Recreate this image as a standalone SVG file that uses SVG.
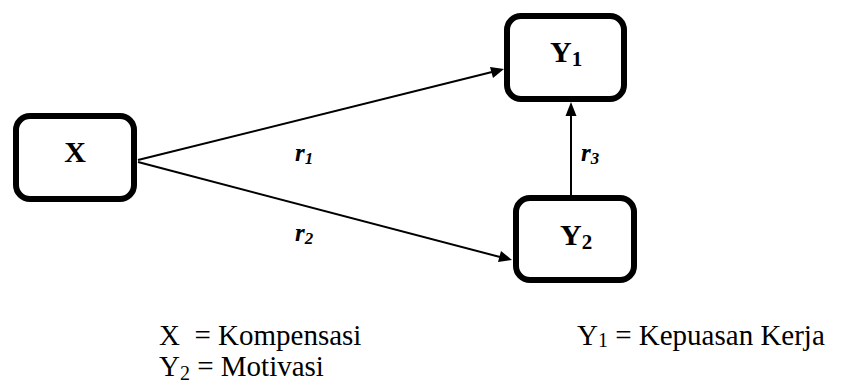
<svg xmlns="http://www.w3.org/2000/svg" width="849" height="385" viewBox="0 0 849 385">
<style>
.box{fill:#fff;stroke:#000;stroke-width:6}
.lbl{font-weight:bold;font-size:30px}
.r{font-weight:bold;font-style:italic;font-size:25px}
.leg{font-size:29px}
.con{stroke:#000;stroke-width:2;fill:none}
</style>
<rect width="849" height="385" fill="#fff"/>
<g font-family="'Liberation Serif','Times New Roman',serif">
<g id="connectors">
<line class="con" x1="138" y1="160" x2="492" y2="72"/>
<path d="M504,69 L490,67 L493,78 z" fill="#000"/>
<line class="con" x1="138" y1="162" x2="500" y2="257"/>
<path d="M512,260 L498,262 L501,251 z" fill="#000"/>
<line class="con" x1="571" y1="195" x2="571" y2="114"/>
<path d="M571,102 L565.5,116 L576.5,116 z" fill="#000"/>
</g>
<g id="X">
<rect class="box" x="16" y="116" width="118" height="83" rx="14"/>
<text class="lbl" x="75" y="162" text-anchor="middle">X</text>
</g>
<g id="Y1">
<rect class="box" x="507" y="16" width="117" height="83" rx="14"/>
<text class="lbl" x="550" y="62">Y<tspan font-size="21" dy="4">1</tspan></text>
</g>
<g id="Y2">
<rect class="box" x="516" y="198" width="118" height="82" rx="14"/>
<text class="lbl" x="560" y="245">Y<tspan font-size="21" dy="4">2</tspan></text>
</g>
<g id="labels">
<text class="r" x="295" y="161">r<tspan font-size="17" dy="3">1</tspan></text>
<text class="r" x="295" y="241">r<tspan font-size="17" dy="3">2</tspan></text>
<text class="r" x="581" y="161">r<tspan font-size="17" dy="3">3</tspan></text>
</g>
<g id="legend">
<text class="leg" x="159" y="345" xml:space="preserve">X  = Kompensasi</text>
<text class="leg" x="577" y="345">Y<tspan font-size="20" dy="2">1</tspan><tspan dy="-2"> = Kepuasan Kerja</tspan></text>
<text class="leg" x="159" y="376">Y<tspan font-size="20" dy="4">2</tspan><tspan dy="-4"> = Motivasi</tspan></text>
</g>
</g>
</svg>
